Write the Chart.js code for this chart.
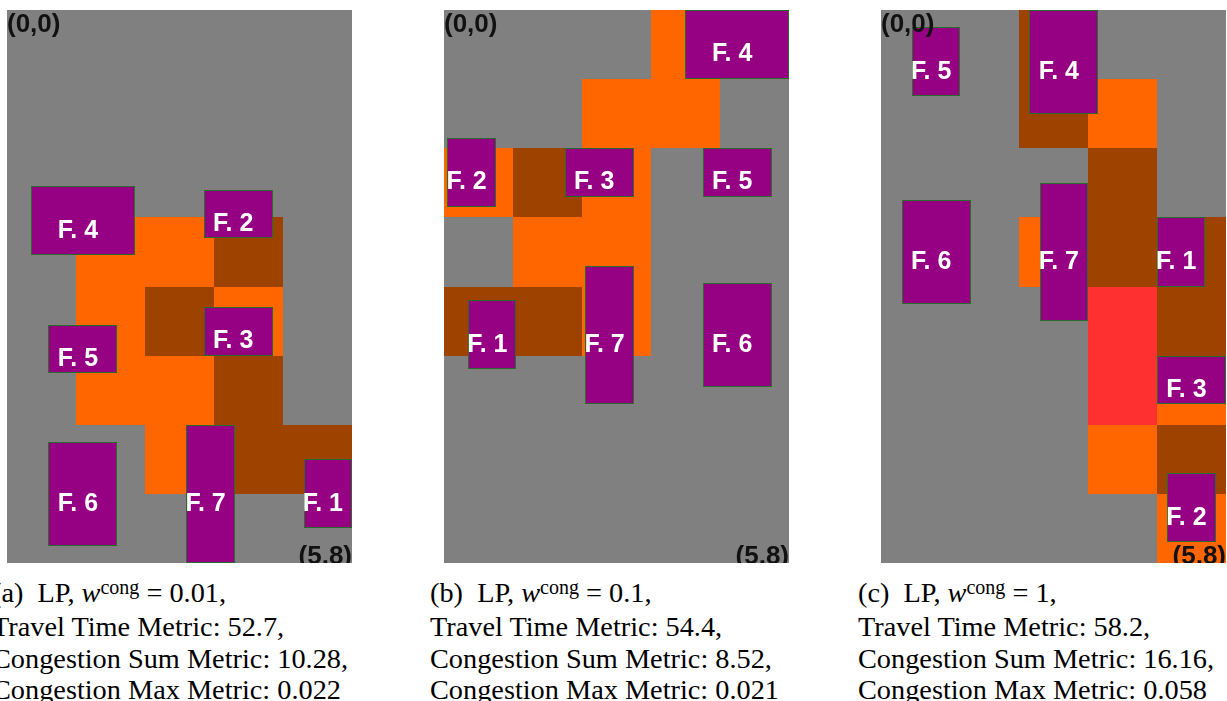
<!DOCTYPE html>
<html lang="en">
<head>
    <meta charset="UTF-8">
    <title>LP facility layouts</title>
    <style>
        body { margin: 0; width: 1227px; height: 701px; overflow: hidden; background: #fff; position: relative; }
        .panel { position: absolute; top: 10px; width: 345px; height: 553px; }
        .panel canvas { display: block; }
        .caption {
            position: absolute; top: 577px;
            font-family: "Liberation Serif", "Times New Roman", serif;
            font-size: 28.3px; line-height: 31.3px; color: #000; white-space: nowrap;
        }
        .caption .sup { font-size: 20px; position: relative; top: -8px; }
    </style>
</head>
<body>
    <div class="panel" style="left:7px"><canvas id="chartA" width="345" height="553"></canvas></div>
    <div class="panel" style="left:444px"><canvas id="chartB" width="345" height="553"></canvas></div>
    <div class="panel" style="left:881px"><canvas id="chartC" width="345" height="553"></canvas></div>

    <div class="caption" id="capA" style="left:-8px"></div>
    <div class="caption" id="capB" style="left:430px"></div>
    <div class="caption" id="capC" style="left:858px"></div>

<script src="https://cdn.jsdelivr.net/npm/chart.js"></script>
<script>
    // congestion level per cell, rows top->bottom (8), cols left->right (5)
    // 0 = none, 1 = low, 2 = medium, 3 = high
    const congestionA = [
        [0, 0, 0, 0, 0],
        [0, 0, 0, 0, 0],
        [0, 0, 0, 0, 0],
        [0, 1, 1, 2, 0],
        [0, 1, 2, 1, 0],
        [0, 1, 1, 2, 0],
        [0, 0, 1, 2, 2],
        [0, 0, 0, 0, 0]
    ];
    const congestionB = [
        [0, 0, 0, 1, 0],
        [0, 0, 1, 1, 0],
        [1, 2, 1, 0, 0],
        [0, 1, 1, 0, 0],
        [2, 2, 1, 0, 0],
        [0, 0, 0, 0, 0],
        [0, 0, 0, 0, 0],
        [0, 0, 0, 0, 0]
    ];
    const congestionC = [
        [0, 0, 2, 0, 0],
        [0, 0, 2, 1, 0],
        [0, 0, 0, 2, 0],
        [0, 0, 1, 2, 2],
        [0, 0, 0, 3, 2],
        [0, 0, 0, 3, 1],
        [0, 0, 0, 1, 2],
        [0, 0, 0, 0, 1]
    ];

    const facilityLabels = ['F. 1', 'F. 2', 'F. 3', 'F. 4', 'F. 5', 'F. 6', 'F. 7'];
    // [x0, y0, x1, y1] in grid units, origin top-left
    const facilitiesA = [
        [4.3, 6.5, 5.0, 7.5],
        [2.85, 2.6, 3.85, 3.3],
        [2.85, 4.3, 3.85, 5.0],
        [0.35, 2.55, 1.85, 3.55],
        [0.6, 4.55, 1.6, 5.25],
        [0.6, 6.25, 1.6, 7.75],
        [2.6, 6.0, 3.3, 8.0]
    ];
    const facilitiesB = [
        [0.35, 4.2, 1.05, 5.2],
        [0.05, 1.85, 0.75, 2.85],
        [1.75, 2.0, 2.75, 2.7],
        [3.5, 0.0, 5.0, 1.0],
        [3.75, 2.0, 4.75, 2.7],
        [3.75, 3.95, 4.75, 5.45],
        [2.05, 3.7, 2.75, 5.7]
    ];
    const facilitiesC = [
        [4.0, 3.0, 4.7, 4.0],
        [4.15, 6.7, 4.85, 7.7],
        [4.0, 5.0, 5.0, 5.7],
        [2.15, 0.0, 3.15, 1.5],
        [0.45, 0.25, 1.15, 1.25],
        [0.3, 2.75, 1.3, 4.25],
        [2.3, 2.5, 3.0, 4.5]
    ];

    const panelLetters = ['a', 'b', 'c'];
    const congestionWeights = ['0.01', '0.1', '1'];
    const travelTimeMetric = ['52.7', '54.4', '58.2'];
    const congestionSumMetric = ['10.28', '8.52', '16.16'];
    const congestionMaxMetric = ['0.022', '0.021', '0.058'];

    const levelColors = ['#808080', '#ff6600', '#9e4200', '#ff3030'];
    const facilityColor = '#960082';
    const facilityBorder = '#2a6a2a';

    // draws the cells, facilities and corner marks using the chart scales
    function layoutPlugin(congestion, facilities) {
        return {
            id: 'layout',
            beforeDatasetsDraw(chart) {
                const ctx = chart.ctx;
                const area = chart.chartArea;
                const x = chart.scales.x;
                const y = chart.scales.y;
                const px = v => Math.round(x.getPixelForValue(v));
                const py = v => Math.round(y.getPixelForValue(v));

                ctx.save();
                ctx.beginPath();
                ctx.rect(area.left, area.top, area.right - area.left, area.bottom - area.top);
                ctx.clip();

                congestion.forEach((row, r) => {
                    row.forEach((level, c) => {
                        ctx.fillStyle = levelColors[level];
                        ctx.fillRect(px(c), py(r), px(c + 1) - px(c), py(r + 1) - py(r));
                    });
                });

                facilities.forEach(f => {
                    const x0 = px(f[0]), y0 = py(f[1]), x1 = px(f[2]), y1 = py(f[3]);
                    ctx.fillStyle = facilityColor;
                    ctx.fillRect(x0, y0, x1 - x0, y1 - y0);
                    ctx.strokeStyle = facilityBorder;
                    ctx.lineWidth = 1;
                    ctx.strokeRect(x0 + 0.5, y0 + 0.5, x1 - x0 - 1, y1 - y0 - 1);
                });

                ctx.font = 'bold 25px "Liberation Sans", Arial, sans-serif';
                ctx.fillStyle = '#ffffff';
                ctx.textAlign = 'center';
                ctx.textBaseline = 'middle';
                facilities.forEach((f, i) => {
                    const cx = x.getPixelForValue((f[0] + f[2]) / 2);
                    const cy = y.getPixelForValue((f[1] + f[3]) / 2);
                    ctx.fillText(facilityLabels[i], cx - 5, cy + 10);
                });

                ctx.font = 'bold 26px "Liberation Sans", Arial, sans-serif';
                ctx.fillStyle = '#111111';
                ctx.textBaseline = 'alphabetic';
                ctx.textAlign = 'left';
                ctx.fillText('(0,0)', x.getPixelForValue(0), y.getPixelForValue(0) + 21.5);
                ctx.textAlign = 'right';
                ctx.fillText('(5,8)', x.getPixelForValue(5), y.getPixelForValue(8) + 1);
                ctx.restore();
            }
        };
    }

    function makeChart(canvasId, congestion, facilities) {
        return new Chart(document.getElementById(canvasId), {
            type: 'scatter',
            data: { datasets: [] },
            options: {
                responsive: false,
                animation: false,
                events: [],
                layout: { padding: 0 },
                scales: {
                    x: { type: 'linear', min: 0, max: 5, display: false },
                    y: { type: 'linear', min: 0, max: 8, reverse: true, display: false }
                },
                plugins: {
                    legend: { display: false },
                    tooltip: { enabled: false }
                }
            },
            plugins: [layoutPlugin(congestion, facilities)]
        });
    }

    makeChart('chartA', congestionA, facilitiesA);
    makeChart('chartB', congestionB, facilitiesB);
    makeChart('chartC', congestionC, facilitiesC);

    ['capA', 'capB', 'capC'].forEach((id, i) => {
        document.getElementById(id).innerHTML =
            '(' + panelLetters[i] + ')&nbsp; LP, <i>w</i><span class="sup">cong</span> = ' + congestionWeights[i] + ',<br>' +
            'Travel Time Metric: ' + travelTimeMetric[i] + ',<br>' +
            'Congestion Sum Metric: ' + congestionSumMetric[i] + ',<br>' +
            'Congestion Max Metric: ' + congestionMaxMetric[i];
    });
</script>
</body>
</html>
